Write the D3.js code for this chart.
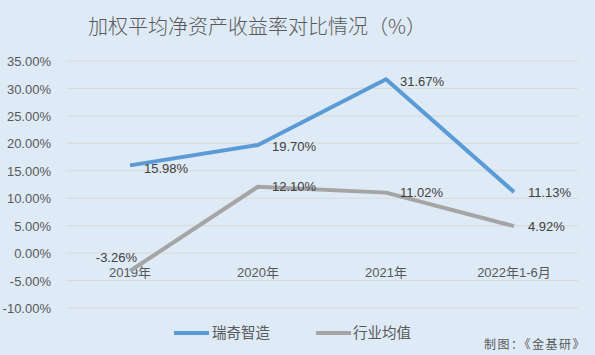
<!DOCTYPE html>
<html><head><meta charset="utf-8">
<script src="https://cdn.jsdelivr.net/npm/d3@7"></script>
<style>
html,body{margin:0;padding:0;background:#DEEAF6;}
text{font-family:"Liberation Sans","Noto Sans CJK SC",sans-serif;}
</style></head>
<body>
<svg id="c" width="595" height="355"></svg>
<script>
const categories = ["2019年","2020年","2021年","2022年1-6月"];
const seriesNames = ["瑞奇智造","行业均值"];
const ruiqi = [15.98, 19.70, 31.67, 11.13];
const industry = [-3.26, 12.10, 11.02, 4.92];
const yTicks = [-10,-5,0,5,10,15,20,25,30,35];
const colors = ["#5B9BD5","#A5A5A5"];

const svg = d3.select("#c");
svg.append("rect").attr("width",595).attr("height",355).attr("fill","#DEEAF6");

const x = d3.scaleBand().domain(categories).range([66,578]);
const y = d3.scaleLinear().domain([-10,35]).range([308,61]);
const cx = c => x(c) + x.bandwidth()/2;

// title
svg.append("text").attr("x",88).attr("y",34).attr("text-anchor","start")
  .attr("font-size",20).attr("fill","#595959").style("font-family","'Noto Sans CJK SC',sans-serif")
  .attr("font-weight",300)
  .text("加权平均净资产收益率对比情况（%）");

// gridlines
svg.append("g").selectAll("line").data(yTicks).join("line")
  .attr("x1",66).attr("x2",578).attr("y1",d=>y(d)).attr("y2",d=>y(d))
  .attr("stroke","#D9D9D9").attr("stroke-width",1);

// y axis
const yAxis = d3.axisLeft(y).tickValues(yTicks).tickSize(0).tickPadding(0)
  .tickFormat(d=>d.toFixed(2)+"%");
const gy = svg.append("g").attr("transform","translate(51,0)").call(yAxis);
gy.select(".domain").remove();
gy.selectAll("text").attr("font-size",13).attr("fill","#595959").attr("dy","0.35em")
  .style("font-family","'Liberation Sans',sans-serif");

// x axis labels at zero line
const xAxis = d3.axisBottom(x).tickSize(0).tickPadding(0);
const gx = svg.append("g").attr("transform",`translate(0,${y(0)})`).call(xAxis);
gx.select(".domain").remove();
gx.selectAll("text").attr("font-size",13).attr("fill","#595959").attr("dy","1.8em")
  .style("font-family","'Liberation Sans','Noto Sans CJK SC',sans-serif");

// lines
const line = d3.line().x((d,i)=>cx(categories[i])).y(d=>y(d));
[industry, ruiqi].forEach((s,k)=>{
  const col = k===0 ? colors[1] : colors[0];
  svg.append("path").datum(s).attr("d",line).attr("fill","none")
    .attr("stroke",col).attr("stroke-width",4).attr("stroke-linejoin","round");
});

// data labels
function labels(s, offsets){
  svg.append("g").selectAll("text").data(s).join("text")
    .attr("x",(d,i)=>cx(categories[i])+offsets[i][0])
    .attr("y",(d,i)=>y(d)+offsets[i][1])
    .attr("text-anchor",(d,i)=>offsets[i][2]||"start")
    .attr("dy","0.35em")
    .attr("font-size",13).attr("fill","#404040")
    .text(d=>d.toFixed(2)+"%");
}
labels(ruiqi, [[14,3],[14,1],[14,2],[14,0]]);
labels(industry, [[7,-14,"end"],[14,0],[14,0],[14,0]]);

// legend
const lg = svg.append("g");
[[174,212],[316,353]].forEach((p,i)=>{
  lg.append("line").attr("x1",p[0]).attr("x2",p[0]+35).attr("y1",333).attr("y2",333)
    .attr("stroke",colors[i]).attr("stroke-width",4);
  lg.append("text").attr("x",p[1]).attr("y",333).attr("dy","0.35em")
    .attr("font-size",14.5).attr("fill","#595959").style("font-family","'Noto Sans CJK SC',sans-serif")
    .text(seriesNames[i]);
});

// source
svg.append("text").attr("x",586).attr("y",345).attr("dy","0.35em").attr("text-anchor","end")
  .attr("font-size",12).attr("fill","#595959").attr("letter-spacing",1.5)
  .style("font-family","'Noto Sans CJK SC',sans-serif")
  .text("制图：《金基研》");
</script>
</body></html>
